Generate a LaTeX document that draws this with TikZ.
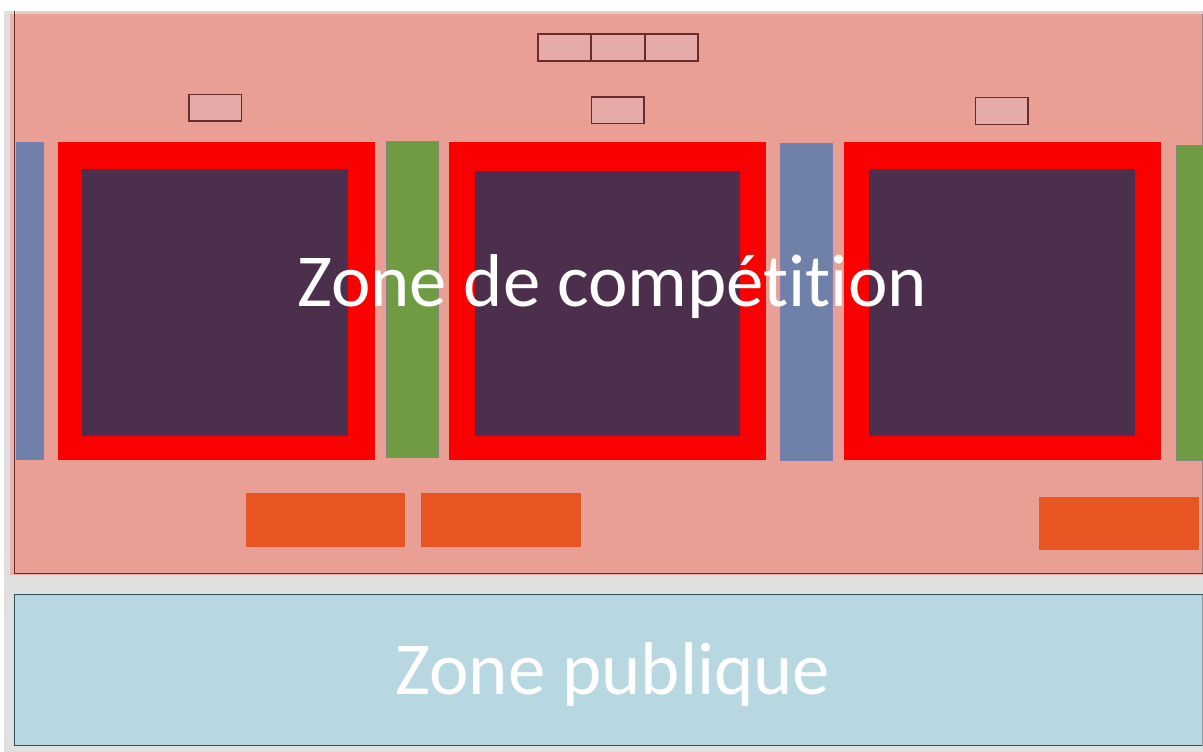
\documentclass[tikz,border=0pt]{standalone}
\usepackage{fontspec}
\setmainfont[Ligatures=NoCommon]{Carlito}
\definecolor{pagegrey}{HTML}{E0E0E0}
\definecolor{topstrip}{HTML}{E0CFC6}
\definecolor{salmon}{HTML}{EA9F95}
\definecolor{salmonedge}{HTML}{EFB0AE}
\definecolor{salmonline}{HTML}{5E2A30}
\definecolor{publicblue}{HTML}{B7D7E1}
\definecolor{publicline}{HTML}{2F4F5A}
\definecolor{smallfill}{HTML}{E5ABA8}
\definecolor{smallline}{HTML}{6A2A30}
\definecolor{bluebar}{HTML}{6F81A8}
\definecolor{bluebarline}{HTML}{7A7FB0}
\definecolor{greenbar}{HTML}{6F9C43}
\definecolor{greenbarline}{HTML}{7F8A80}
\definecolor{innerdark}{HTML}{4B2F4C}
\definecolor{redframe}{HTML}{FA0000}
\definecolor{orangebox}{HTML}{E85623}
\tikzset{
  smallbox/.style={fill=smallfill,draw=smallline,line width=1.1pt},
  bluebox/.style={fill=bluebar,draw=bluebarline,line width=1pt},
  greenbox/.style={fill=greenbar,draw=greenbarline,line width=1pt},
  redbox/.style={fill=redframe},
  innerbox/.style={fill=innerdark},
  orangerect/.style={fill=orangebox},
  bigtext/.style={text=white,font=\fontsize{74.8}{75}\selectfont,inner sep=0pt,anchor=base}
}
\begin{document}
\begin{tikzpicture}[x=1pt,y=-1pt]
\useasboundingbox (0,0) rectangle (1203,752);
\fill[white] (0,0) rectangle (1203,752);
\fill[pagegrey] (4,11) rectangle (1203,752);
\fill[topstrip] (16,11) rectangle (1203,14);
\fill[salmonedge] (10,14) rectangle (1203,574.5);
\fill[salmon] (15,14) rectangle (1203,573);
\draw[salmonline,line width=1.3pt] (14.5,11) -- (14.5,573.5) -- (1203,573.5);
\fill[publicblue] (14.5,594.5) rectangle (1203,745.5);
\draw[publicline,line width=1.3pt] (1202.5,594.5) -- (14.5,594.5) -- (14.5,745.5) -- (1202.5,745.5);
\draw[publicline!60,line width=1pt] (1202.5,594.5) -- (1202.5,745.5);
\draw[salmonline!60,line width=1pt] (1202.5,14) -- (1202.5,573);
% small boxes
\draw[smallbox] (538,34) rectangle (591,61);
\draw[smallbox] (591,34) rectangle (644.5,61);
\draw[smallbox] (645,34) rectangle (698,61);
\draw[smallbox] (189,94.5) rectangle (241.5,121);
\draw[smallbox] (591.5,97) rectangle (644,123.5);
\draw[smallbox] (975.5,97.5) rectangle (1028,124.5);
% bars
\draw[bluebox] (16,142.5) rectangle (43.5,459);
\draw[greenbox] (386,141) rectangle (438,457.5);
\draw[bluebox] (780.5,143.5) rectangle (832.5,460);
\draw[greenbox] (1176.5,145) rectangle (1204,460.5);
% frames
\fill[redbox] (58,142) rectangle (375,460);
\fill[innerbox] (82,169) rectangle (348,436);
\fill[redbox] (449,142) rectangle (766,460);
\fill[innerbox] (474.5,171) rectangle (740,436);
\fill[redbox] (844,142) rectangle (1161,460);
\fill[innerbox] (869,169) rectangle (1135,436);
% orange
\fill[orangerect] (245.5,493) rectangle (405,547);
\fill[orangerect] (421,493) rectangle (581,547);
\fill[orangerect] (1039,497) rectangle (1199,550);
% labels
\node[bigtext] (competition) at (612,306.5) {Zone de compétition};
\node[bigtext] (public) at (613,694.5) {Zone publique};
\end{tikzpicture}
\end{document}
